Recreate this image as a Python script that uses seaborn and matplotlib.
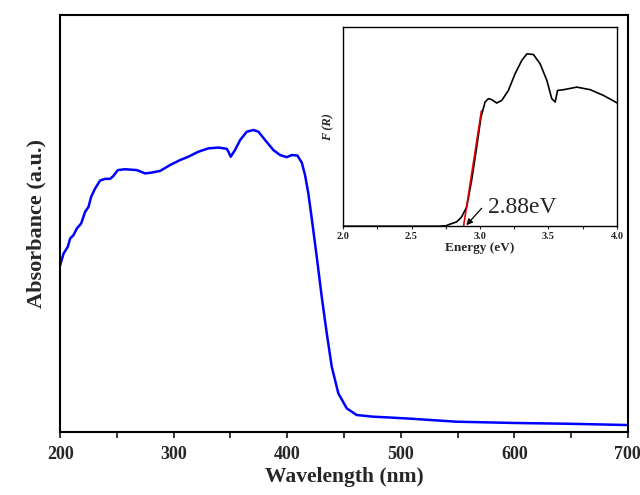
import matplotlib
matplotlib.use("Agg")
import matplotlib.pyplot as plt
from matplotlib.ticker import MultipleLocator
import numpy as np
import pandas as pd
import seaborn as sns

# UV-vis absorbance spectrum (arbitrary units)
wavelength = [200, 203, 206.7, 208.8, 211.7, 214.7, 218.5, 222, 225, 227.3,
              230.8, 235.2, 239.6, 244, 246.9, 250.8, 257.2, 267.5, 274.8,
              280.7, 288, 296.8, 305.6, 312.9, 321.7, 330.5, 339.4, 346.7,
              348.2, 350.2, 354, 358.5, 364.4, 370.2, 374.6, 380.5, 387.8,
              393.7, 399.6, 404, 408.9, 412.8, 415.7, 418.6, 421.6, 426,
              430.4, 434.8, 439.2, 445, 452.4, 461.2, 475.8, 490.5, 510, 549,
              599, 649, 700]
absorbance = [0.40, 0.428, 0.444, 0.464, 0.472, 0.488, 0.50, 0.528, 0.540,
              0.564, 0.584, 0.603, 0.607, 0.607, 0.614, 0.628, 0.630, 0.628,
              0.620, 0.622, 0.626, 0.640, 0.652, 0.660, 0.672, 0.680, 0.682,
              0.679, 0.672, 0.660, 0.676, 0.700, 0.720, 0.724, 0.720, 0.700,
              0.676, 0.664, 0.659, 0.664, 0.663, 0.646, 0.616, 0.572, 0.512,
              0.420, 0.324, 0.237, 0.157, 0.093, 0.057, 0.041, 0.037, 0.035,
              0.032, 0.025, 0.022, 0.020, 0.017]

# Kubelka-Munk function vs photon energy
energy = [2.0, 2.4, 2.7, 2.75, 2.78, 2.83, 2.866, 2.903, 2.939, 2.976, 3.007,
          3.037, 3.061, 3.086, 3.122, 3.159, 3.207, 3.256, 3.305, 3.342,
          3.39, 3.439, 3.488, 3.524, 3.549, 3.566, 3.61, 3.707, 3.805, 3.902,
          4.0]
kubelka_munk = [0.0, 0.0, 0.0, 0.002, 0.010, 0.022, 0.047, 0.097, 0.231,
                0.398, 0.548, 0.624, 0.641, 0.636, 0.619, 0.632, 0.682, 0.766,
                0.833, 0.866, 0.863, 0.816, 0.733, 0.641, 0.624, 0.682, 0.686,
                0.699, 0.686, 0.657, 0.620]

# Band-gap extrapolation line
band_gap = 2.88
fit_energy = [2.88, 3.010]
fit_slope = 4.45

sns.set_theme(style="white")
plt.rcParams["font.family"] = ["Liberation Serif", "DejaVu Serif"]

fig = plt.figure(figsize=(6.4, 4.95), dpi=100)
ax = fig.add_axes([0.094, 0.127, 0.887, 0.843])

df = pd.DataFrame({"wl": wavelength, "abs": absorbance})
sns.lineplot(data=df, x="wl", y="abs", ax=ax, color="#0000FF", linewidth=1.8)
ax.set_xlim(200, 700)
ax.set_ylim(0, 1)
ax.xaxis.set_major_locator(MultipleLocator(100))
ax.xaxis.set_minor_locator(MultipleLocator(50))
ax.set_yticks([])
ax.tick_params(axis="x", which="both", direction="out", length=4, width=1.3,
               bottom=True, labelsize=13, pad=6)
for lab in ax.get_xticklabels():
    lab.set_fontweight("bold")
ax.set_xlabel("Wavelength (nm)", fontsize=15.5, fontweight="bold", labelpad=3)
ax.set_ylabel("Absorbance (a.u.)", fontsize=16, fontweight="bold", labelpad=10)
for sp in ax.spines.values():
    sp.set_color("black")
    sp.set_linewidth(1.5)

# Inset: Kubelka-Munk plot with band-gap extrapolation
ins = fig.add_axes([0.536, 0.543, 0.428, 0.402])
dk = pd.DataFrame({"E": energy, "F": kubelka_munk})
sns.lineplot(data=dk, x="E", y="F", ax=ins, color="black", linewidth=1.2)
fe = np.array(fit_energy)
ins.plot(fe, fit_slope * (fe - band_gap), color="#E00000", linewidth=1.2)
ins.set_xlim(2.0, 4.0)
ins.set_ylim(0, 1)
ins.xaxis.set_major_locator(MultipleLocator(0.5))
ins.xaxis.set_minor_locator(MultipleLocator(0.25))
ins.set_yticks([])
ins.tick_params(axis="x", which="both", direction="out", length=2, width=0.8,
                bottom=True, labelsize=7.5, pad=2)
for lab in ins.get_xticklabels():
    lab.set_fontweight("bold")
ins.set_xlabel("Energy (eV)", fontsize=9.5, fontweight="bold", labelpad=1)
ins.set_ylabel("F (R)", fontsize=9, fontweight="bold", style="italic", labelpad=6)
for sp in ins.spines.values():
    sp.set_color("black")
    sp.set_linewidth(1.0)

ins.annotate("", xy=(band_gap + 0.02, 0.005), xytext=(3.012, 0.09),
             arrowprops=dict(arrowstyle="-|>", color="black", lw=0.9,
                             mutation_scale=9, shrinkA=0, shrinkB=0))
ins.text(3.055, 0.04, f"{band_gap:.2f}eV", fontsize=17, ha="left", va="bottom")

fig.savefig("out.png", dpi=100, facecolor="white")
